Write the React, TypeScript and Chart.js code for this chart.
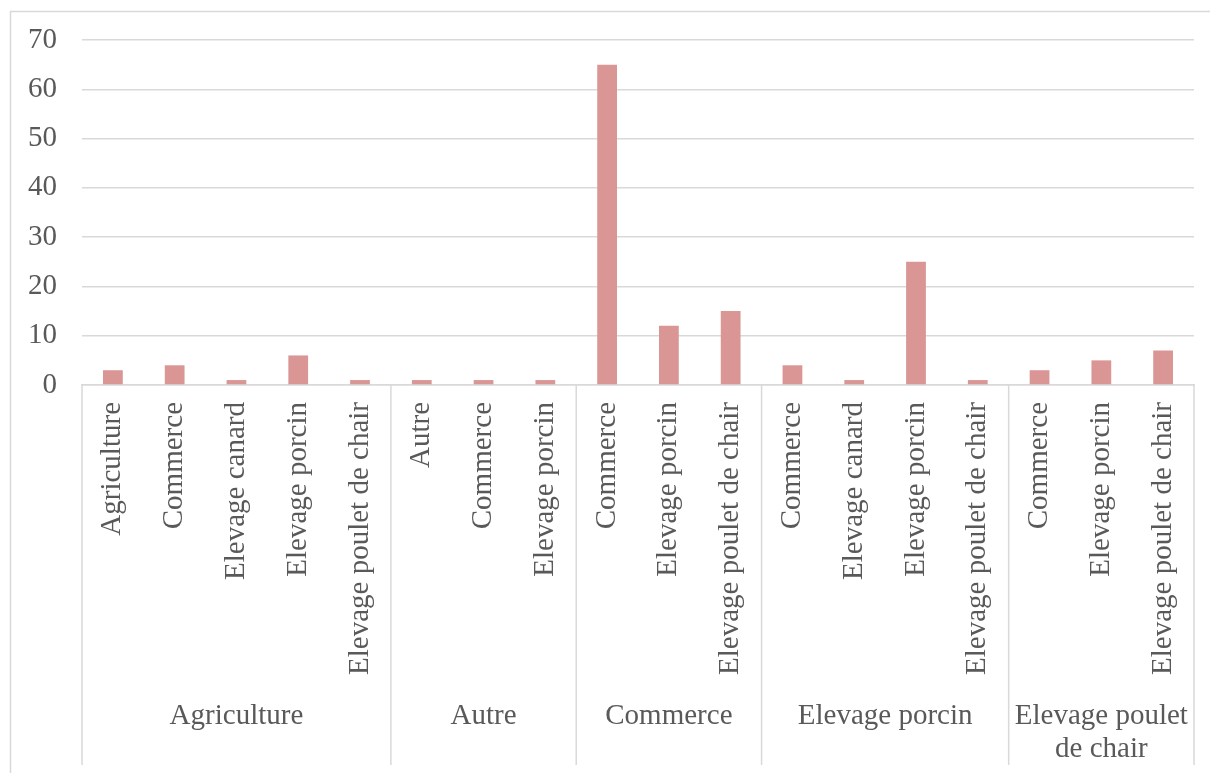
import React, { useEffect, useRef } from "react";
import { Chart, registerables } from "chart.js";

Chart.register(...registerables);

const groupLabels = ["Agriculture", "Autre", "Commerce", "Elevage porcin", "Elevage poulet de chair"];
const groupCounts = [5, 3, 3, 4, 3];
const categories = [
  "Agriculture", "Commerce", "Elevage canard", "Elevage porcin", "Elevage poulet de chair",
  "Autre", "Commerce", "Elevage porcin",
  "Commerce", "Elevage porcin", "Elevage poulet de chair",
  "Commerce", "Elevage canard", "Elevage porcin", "Elevage poulet de chair",
  "Commerce", "Elevage porcin", "Elevage poulet de chair",
];
const values = [3, 4, 1, 6, 1, 1, 1, 1, 65, 12, 15, 4, 1, 25, 1, 3, 5, 7];
const yTicks = [0, 10, 20, 30, 40, 50, 60, 70];

const FONT = "'Liberation Serif', 'Times New Roman', serif";
const TEXT = "#595959";
const LINE = "#d9d9d9";

const groupPlugin = {
  id: "groupAxis",
  beforeDraw(chart: any) {
    const ctx = chart.ctx;
    ctx.save();
    ctx.strokeStyle = LINE;
    ctx.lineWidth = 1.5;
    ctx.strokeRect(10.5, 11.5, 1400, 1000);
    ctx.restore();
  },
  afterDraw(chart: any) {
    const ctx = chart.ctx;
    const xs = chart.scales.x;
    const w = xs.getPixelForValue(1) - xs.getPixelForValue(0);
    const top = chart.chartArea.bottom;
    const lineBottom = xs.bottom + 80;
    ctx.save();
    ctx.strokeStyle = LINE;
    ctx.lineWidth = 1.5;
    let idx = 0;
    const bounds: number[] = [xs.getPixelForValue(0) - w / 2];
    groupCounts.forEach((c) => {
      idx += c;
      bounds.push(xs.getPixelForValue(idx - 1) + w / 2);
    });
    bounds.forEach((b) => {
      ctx.beginPath();
      ctx.moveTo(b, top);
      ctx.lineTo(b, lineBottom);
      ctx.stroke();
    });
    ctx.fillStyle = TEXT;
    ctx.font = `29px ${FONT}`;
    ctx.textAlign = "center";
    ctx.textBaseline = "middle";
    groupLabels.forEach((label, i) => {
      const x0 = bounds[i];
      const x1 = bounds[i + 1];
      const maxW = x1 - x0 - 8;
      const words = label.split(" ");
      const lines: string[] = [];
      let cur = "";
      words.forEach((wd) => {
        const test = cur ? cur + " " + wd : wd;
        if (ctx.measureText(test).width > maxW && cur) {
          lines.push(cur);
          cur = wd;
        } else {
          cur = test;
        }
      });
      if (cur) lines.push(cur);
      lines.forEach((ln, j) => {
        ctx.fillText(ln, (x0 + x1) / 2, xs.bottom + 31 + j * 33);
      });
    });
    ctx.restore();
  },
};

export default function App() {
  const ref = useRef<HTMLCanvasElement | null>(null);
  useEffect(() => {
    if (!ref.current) return;
    const chart = new Chart(ref.current, {
      type: "bar",
      data: {
        labels: categories,
        datasets: [
          {
            data: values,
            backgroundColor: "#d99694",
            barPercentage: 0.32,
            categoryPercentage: 1,
          },
        ],
      },
      options: {
        animation: false,
        responsive: true,
        maintainAspectRatio: false,
        layout: { padding: { top: 40, right: 16, bottom: 88, left: 0 } },
        plugins: { legend: { display: false }, tooltip: { enabled: false } },
        scales: {
          x: {
            grid: { display: false, drawTicks: false },
            border: { display: true, color: LINE, width: 1.5 },
            ticks: {
              autoSkip: false,
              minRotation: 90,
              maxRotation: 90,
              padding: 17,
              color: TEXT,
              font: { family: FONT, size: 29 },
            },
            afterFit: (s: any) => {
              s.height = 300;
              s.paddingLeft = 0;
              s.paddingRight = 0;
            },
          },
          y: {
            min: 0,
            max: 70,
            afterBuildTicks: (s: any) => {
              s.ticks = yTicks.map((v) => ({ value: v }));
            },
            grid: { color: LINE, lineWidth: 1.5, drawTicks: false },
            border: { display: false },
            ticks: {
              padding: 25,
              color: TEXT,
              font: { family: FONT, size: 29 },
            },
            afterFit: (s: any) => {
              s.width = 82;
              s.paddingTop = 0;
              s.paddingBottom = 0;
            },
          },
        },
      },
      plugins: [groupPlugin],
    });
    return () => chart.destroy();
  }, []);
  return (
    <div style={{ position: "fixed", left: 0, top: 0, width: 1210, height: 773, overflow: "hidden", background: "#fff" }}>
      <canvas ref={ref} />
    </div>
  );
}
